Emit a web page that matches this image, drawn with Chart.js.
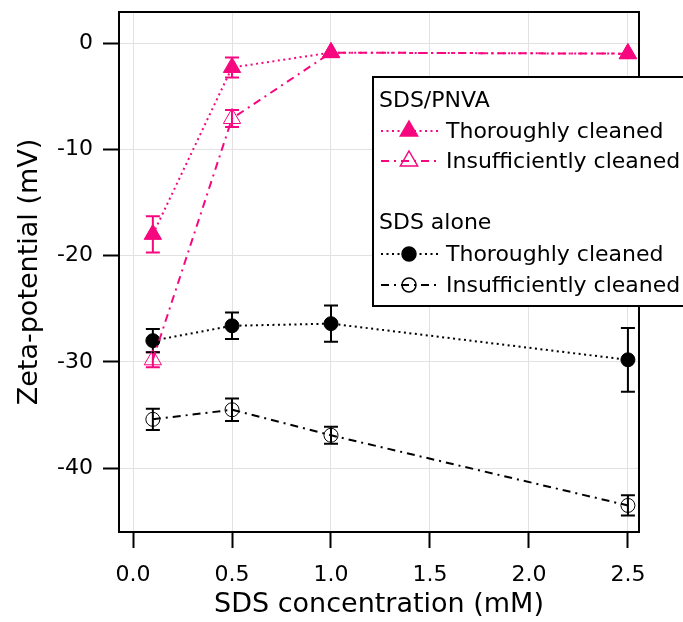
<!DOCTYPE html>
<html>
<head>
<meta charset="utf-8">
<script src="https://cdn.jsdelivr.net/npm/chart.js@4"></script>
<style>
  html, body { margin: 0; padding: 0; background: #fff; }
  #wrap { width: 683px; height: 622px; }
</style>
</head>
<body>
<div id="wrap"><canvas id="zeta" width="683" height="622"></canvas></div>
<script>
// SDS concentration (mM)
var conc = [0.1, 0.5, 1.0, 2.5];

// zeta-potential (mV) and error bars
var pnvaClean = [-18.0, -2.3, -0.9, -1.0];
var pnvaCleanErr = [1.7, 0.95, 0, 0];
var pnvaDirty = [-29.8, -7.1, -0.9, -1.0];
var pnvaDirtyErr = [0.7, 0.8, 0, 0];
var sdsClean = [-28.0, -26.6, -26.4, -29.8];
var sdsCleanErr = [1.1, 1.25, 1.7, 3.0];
var sdsDirty = [-35.4, -34.5, -36.9, -43.5];
var sdsDirtyErr = [1.0, 1.05, 0.8, 0.95];

var xTicks = [0, 0.5, 1.0, 1.5, 2.0, 2.5];
var yTicks = [0, -10, -20, -30, -40];

var PINK = '#f7077f';
var FONT = "'DejaVu Sans', sans-serif";
var DOTS = [2, 3.5];
var DASHDOT = [8, 5, 2, 5];

function pts(ys) {
  return conc.map(function (x, i) { return {x: x, y: ys[i]}; });
}

var errors = [pnvaCleanErr, pnvaDirtyErr, sdsCleanErr, sdsDirtyErr];

// error bars, drawn under the markers
var errorBars = {
  id: 'errorBars',
  beforeDatasetsDraw: function (chart) {
    var ctx = chart.ctx, xs = chart.scales.x, ys = chart.scales.y;
    chart.data.datasets.forEach(function (ds, k) {
      var err = errors[k];
      ctx.save();
      ctx.strokeStyle = ds.borderColor;
      ctx.lineWidth = 2;
      ds.data.forEach(function (p, i) {
        if (!err[i]) return;
        var px = xs.getPixelForValue(p.x);
        var top = ys.getPixelForValue(p.y + err[i]);
        var bot = ys.getPixelForValue(p.y - err[i]);
        ctx.beginPath();
        ctx.moveTo(px, top); ctx.lineTo(px, bot);
        ctx.moveTo(px - 7, top); ctx.lineTo(px + 7, top);
        ctx.moveTo(px - 7, bot); ctx.lineTo(px + 7, bot);
        ctx.stroke();
      });
      ctx.restore();
    });
  }
};

// plot frame and the boxed legend
var frameAndLegend = {
  id: 'frameAndLegend',
  afterDraw: function (chart) {
    var ctx = chart.ctx, a = chart.chartArea;
    ctx.save();
    ctx.strokeStyle = '#000';
    ctx.lineWidth = 2;
    ctx.strokeRect(a.left, a.top, a.right - a.left, a.bottom - a.top);

    // legend
    var bx = 373, by = 77, bw = 310, bh = 229;
    ctx.fillStyle = '#fff';
    ctx.fillRect(bx, by, bw, bh);
    ctx.strokeRect(bx, by, bw + 10, bh);

    ctx.font = '22px ' + FONT;
    ctx.textBaseline = 'middle';
    ctx.textAlign = 'left';
    ctx.fillStyle = '#000';
    ctx.fillText('SDS/PNVA', 379, 101);
    ctx.fillText('SDS alone', 379, 223);

    var rows = [
      {ds: 0, y: 131}, {ds: 1, y: 161}, {ds: 2, y: 254}, {ds: 3, y: 285}
    ];
    rows.forEach(function (r) {
      var ds = chart.data.datasets[r.ds];
      ctx.save();
      ctx.strokeStyle = ds.borderColor;
      ctx.lineWidth = ds.borderWidth;
      ctx.setLineDash(ds.borderDash);
      ctx.beginPath();
      ctx.moveTo(381, r.y); ctx.lineTo(438, r.y);
      ctx.stroke();
      ctx.restore();

      ctx.save();
      ctx.fillStyle = ds.pointBackgroundColor;
      ctx.strokeStyle = ds.borderColor;
      ctx.lineWidth = 1.5;
      ctx.beginPath();
      if (ds.pointStyle === 'circle') {
        ctx.arc(409, r.y, ds.pointRadius, 0, Math.PI * 2);
      } else {
        var rr = ds.pointRadius;
        ctx.moveTo(409, r.y - rr);
        ctx.lineTo(409 + rr * 0.866, r.y + rr * 0.5);
        ctx.lineTo(409 - rr * 0.866, r.y + rr * 0.5);
        ctx.closePath();
      }
      ctx.fill();
      ctx.stroke();
      ctx.restore();
      ctx.fillStyle = '#000';
      ctx.fillText(ds.label, 446, r.y + 1);
    });
    ctx.restore();
  }
};

var ctx = document.getElementById('zeta').getContext('2d');

new Chart(ctx, {
  type: 'line',
  data: {
    datasets: [{
      label: 'Thoroughly cleaned',
      data: pts(pnvaClean),
      borderColor: PINK,
      backgroundColor: PINK,
      pointBackgroundColor: PINK,
      borderWidth: 2,
      borderDash: DOTS,
      pointStyle: 'triangle',
      pointRadius: 10,
      pointBorderWidth: 1
    }, {
      label: 'Insufficiently cleaned',
      data: pts(pnvaDirty),
      borderColor: PINK,
      backgroundColor: 'rgba(0,0,0,0)',
      pointBackgroundColor: 'rgba(0,0,0,0)',
      borderWidth: 2,
      borderDash: DASHDOT,
      pointStyle: 'triangle',
      pointRadius: 10,
      pointBorderWidth: 1
    }, {
      label: 'Thoroughly cleaned',
      data: pts(sdsClean),
      borderColor: '#000',
      backgroundColor: '#000',
      pointBackgroundColor: '#000',
      borderWidth: 2,
      borderDash: DOTS,
      pointStyle: 'circle',
      pointRadius: 7,
      pointBorderWidth: 1
    }, {
      label: 'Insufficiently cleaned',
      data: pts(sdsDirty),
      borderColor: '#000',
      backgroundColor: 'rgba(0,0,0,0)',
      pointBackgroundColor: 'rgba(0,0,0,0)',
      borderWidth: 2,
      borderDash: DASHDOT,
      pointStyle: 'circle',
      pointRadius: 7,
      pointBorderWidth: 1
    }]
  },
  options: {
    responsive: false,
    animation: false,
    layout: { padding: { top: 12, right: 44, left: 0, bottom: 0 } },
    plugins: {
      legend: { display: false },
      tooltip: { enabled: false }
    },
    scales: {
      x: {
        type: 'linear',
        min: -0.071,
        max: 2.556,
        afterBuildTicks: function (s) { s.ticks = xTicks.map(function (v) { return {value: v}; }); },
        afterFit: function (s) { s.height = 90; s.paddingLeft = 0; s.paddingRight = 0; },
        border: { display: false },
        grid: {
          color: '#e2e2e2',
          borderDash: [2, 3],
          tickColor: '#000',
          tickWidth: 2,
          tickLength: 16,
          tickBorderDash: []
        },
        ticks: {
          color: '#000',
          font: { family: FONT, size: 22 },
          padding: 14,
          maxRotation: 0,
          callback: function (v) { return v.toFixed(1); }
        },
        title: {
          display: true,
          text: 'SDS concentration (mM)',
          color: '#000',
          font: { family: FONT, size: 27 },
          padding: { top: 0, bottom: 1 }
        }
      },
      y: {
        type: 'linear',
        min: -46.0,
        max: 2.92,
        afterBuildTicks: function (s) { s.ticks = yTicks.map(function (v) { return {value: v}; }); },
        afterFit: function (s) { s.width = 119; s.paddingTop = 0; s.paddingBottom = 0; },
        border: { display: false },
        grid: {
          color: '#e2e2e2',
          borderDash: [2, 3],
          tickColor: '#000',
          tickWidth: 2,
          tickLength: 16,
          tickBorderDash: []
        },
        ticks: {
          color: '#000',
          font: { family: FONT, size: 22 },
          padding: 10,
          callback: function (v) { return String(v); }
        },
        title: {
          display: true,
          text: 'Zeta-potential (mV)',
          color: '#000',
          font: { family: FONT, size: 27 },
          padding: { top: 14, bottom: 0 }
        }
      }
    }
  },
  plugins: [errorBars, frameAndLegend]
});
</script>
</body>
</html>
